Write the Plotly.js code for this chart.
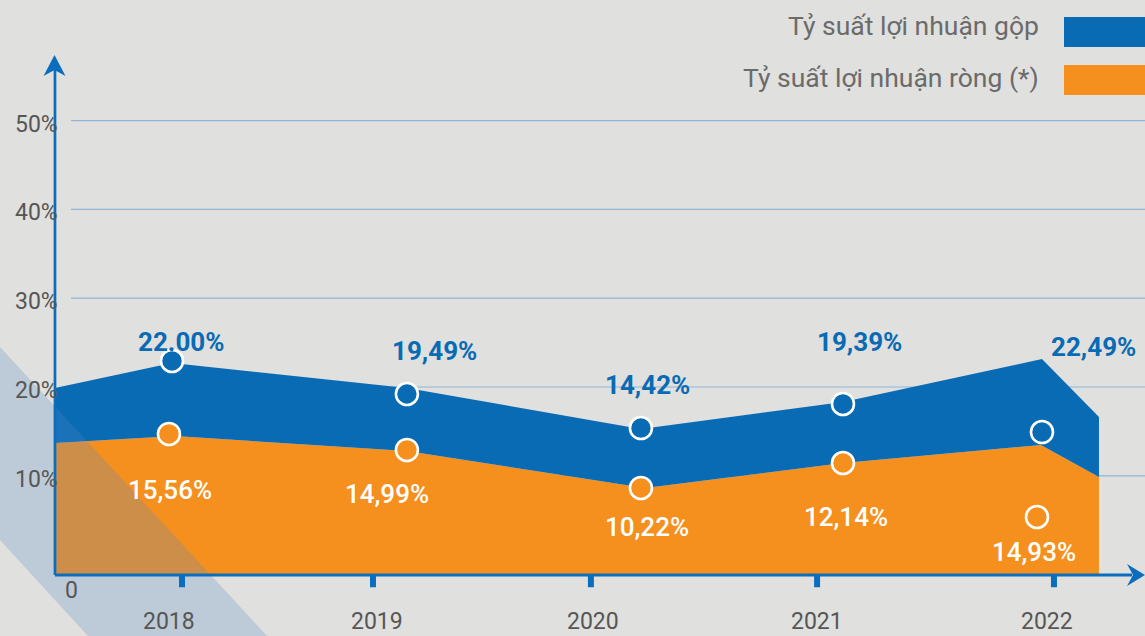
<!DOCTYPE html>
<html><head><meta charset="utf-8">
<script src="https://cdn.plot.ly/plotly-3.0.1.min.js"></script>
<style>html,body{margin:0;padding:0;background:#e0e0de;} #chart{width:1145px;height:636px;}</style>
</head><body><div id="chart"></div>
<script>
// ---- data ----
const years = ['2018', '2019', '2020', '2021', '2022'];
const seriesNames = ['Tỷ suất lợi nhuận gộp', 'Tỷ suất lợi nhuận ròng (*)'];
const grossLabels = ['22.00%', '19,49%', '14,42%', '19,39%', '22,49%'];
const netLabels = ['15,56%', '14,99%', '10,22%', '12,14%', '14,93%'];

const grossMarkerX = [2018.000, 2019.080, 2020.156, 2021.085, 2022.000];
const grossMarkerY = [22.93, 19.21, 15.38, 18.09, 14.93];
const netMarkerX = [2017.986, 2019.080, 2020.156, 2021.085, 2021.977];
const netMarkerY = [14.71, 12.91, 8.63, 11.44, 5.36];

const grossEdgeX = [2017.462, 2018.000, 2019.080, 2020.156, 2021.085, 2022.000, 2022.262];
const grossEdgeY = [19.89, 22.70, 19.89, 15.27, 18.31, 23.15, 16.62];
const netEdgeX = [2017.462, 2018.014, 2019.080, 2020.175, 2021.085, 2021.995, 2022.262];
const netEdgeY = [13.69, 14.48, 12.79, 8.63, 11.44, 13.47, 9.86];

const grossLabelX = [2018.041, 2019.205, 2020.184, 2021.159, 2022.239];
const grossLabelY = [25.07, 24.05, 20.23, 25.07, 24.50];
const netLabelX = [2017.991, 2018.989, 2020.184, 2021.099, 2021.963];
const netLabelY = [8.40, 7.95, 4.23, 5.36, 1.42];

const yTickVals = [10, 20, 30, 40, 50];
const yTickText = ['10%', '20%', '30%', '40%', '50%'];
const xTickPos = [2018.046, 2018.924, 2019.926, 2020.966, 2022.055];
const xLabelPos = [2017.986, 2018.943, 2019.936, 2020.966, 2022.023];

// ---- scales / styling ----
const W = 1145, H = 636;
const X_RANGE = [2017.2092, 2022.4736];
const Y_RANGE = [-8.04, 63.58];
const AXIS_X = 2017.462, AXIS_Y = -1.17, AXIS_END_X = 2022.414, AXIS_TOP_Y = 55.7;
const BLUE = '#0a6bb5', ORANGE = '#f5901f', AXIS = '#0b6ebd', GRAY = '#565656';
const FONT = 'Roboto, "Open Sans", sans-serif';
const px = x => x / W, py = y => 1 - y / H;

const traces = [
  { x: [AXIS_X, netEdgeX[netEdgeX.length - 1]], y: [AXIS_Y, AXIS_Y], mode: 'lines',
    line: { width: 0 }, hoverinfo: 'skip', showlegend: false },
  { x: netEdgeX, y: netEdgeY, mode: 'lines', fill: 'tonexty', fillcolor: ORANGE,
    line: { width: 0 }, hoverinfo: 'skip', showlegend: false, name: seriesNames[1] },
  { x: grossEdgeX, y: grossEdgeY, mode: 'lines', fill: 'tonexty', fillcolor: BLUE,
    line: { width: 0 }, hoverinfo: 'skip', showlegend: false, name: seriesNames[0] },
  { x: grossMarkerX, y: grossMarkerY, mode: 'markers', showlegend: false,
    marker: { size: 22, color: BLUE, line: { color: '#ffffff', width: 2.6 } } },
  { x: netMarkerX, y: netMarkerY, mode: 'markers', showlegend: false,
    marker: { size: 22, color: ORANGE, line: { color: '#ffffff', width: 2.6 } } }
];

const shapes = [];
yTickVals.forEach(v => shapes.push({ type: 'line', xref: 'paper', yref: 'y', x0: px(71), x1: 1, y0: v, y1: v,
  line: { color: '#8fb5d8', width: 1.2 }, layer: 'below' }));
// decorative diagonal band
shapes.push({ type: 'path', xref: 'paper', yref: 'paper', layer: 'above',
  path: `M${px(0)},${py(347)} L${px(267)},${py(636)} L${px(88)},${py(636)} L${px(0)},${py(540)} Z`,
  fillcolor: 'rgba(84,136,196,0.25)', line: { width: 0 } });
// axes
shapes.push({ type: 'line', xref: 'x', yref: 'y', x0: AXIS_X, x1: AXIS_X, y0: AXIS_Y, y1: AXIS_TOP_Y,
  line: { color: AXIS, width: 2.7 }, layer: 'above' });
shapes.push({ type: 'line', xref: 'x', yref: 'y', x0: AXIS_X, x1: AXIS_END_X, y0: AXIS_Y, y1: AXIS_Y,
  line: { color: AXIS, width: 3 }, layer: 'above' });
xTickPos.forEach(x => shapes.push({ type: 'line', xref: 'x', yref: 'y', x0: x, x1: x, y0: AXIS_Y, y1: -2.55,
  line: { color: AXIS, width: 6 }, layer: 'above' }));
// arrow heads
shapes.push({ type: 'path', xref: 'paper', yref: 'paper', layer: 'above',
  path: `M${px(54.5)},${py(55)} L${px(65.5)},${py(76)} L${px(54.5)},${py(70)} L${px(43.5)},${py(76)} Z`,
  fillcolor: AXIS, line: { width: 0 } });
shapes.push({ type: 'path', xref: 'paper', yref: 'paper', layer: 'above',
  path: `M${px(1145)},${py(575)} L${px(1127)},${py(564)} L${px(1133)},${py(575)} L${px(1127)},${py(586)} Z`,
  fillcolor: AXIS, line: { width: 0 } });
// legend swatches
shapes.push({ type: 'rect', xref: 'paper', yref: 'paper', x0: px(1064), x1: 1, y0: py(47), y1: py(17),
  fillcolor: BLUE, line: { width: 0 } });
shapes.push({ type: 'rect', xref: 'paper', yref: 'paper', x0: px(1064), x1: 1, y0: py(95), y1: py(65),
  fillcolor: ORANGE, line: { width: 0 } });

const annotations = [];
grossLabels.forEach((t, i) => annotations.push({ x: grossLabelX[i], y: grossLabelY[i], text: t, showarrow: false,
  font: { family: FONT, size: 26, color: BLUE, weight: 700 } }));
netLabels.forEach((t, i) => annotations.push({ x: netLabelX[i], y: netLabelY[i], text: t, showarrow: false,
  font: { family: FONT, size: 26, color: '#ffffff', weight: 500 } }));
yTickVals.forEach((v, i) => annotations.push({ x: 2017.485, y: v, yshift: -3.5, xanchor: 'right', text: yTickText[i],
  showarrow: false, font: { family: FONT, size: 23, color: GRAY } }));
years.forEach((t, i) => annotations.push({ x: xLabelPos[i], y: -6.46, text: t, showarrow: false,
  font: { family: FONT, size: 23, color: GRAY } }));
annotations.push({ x: 2017.540, y: -2.86, text: '0', showarrow: false, font: { family: FONT, size: 23, color: GRAY } });
annotations.push({ xref: 'paper', yref: 'paper', x: px(1041), y: py(25), xanchor: 'right', yanchor: 'middle',
  text: seriesNames[0], showarrow: false, font: { family: FONT, size: 26.5, color: '#6b6b6b' } });
annotations.push({ xref: 'paper', yref: 'paper', x: px(1041), y: py(78), xanchor: 'right', yanchor: 'middle',
  text: seriesNames[1], showarrow: false, font: { family: FONT, size: 26.5, color: '#6b6b6b' } });

const layout = {
  width: W, height: H,
  margin: { l: 0, r: 0, t: 0, b: 0, pad: 0 },
  paper_bgcolor: '#e0e0de', plot_bgcolor: 'rgba(0,0,0,0)',
  xaxis: { range: X_RANGE, visible: false, fixedrange: true },
  yaxis: { range: Y_RANGE, visible: false, fixedrange: true },
  showlegend: false, shapes, annotations, hovermode: false
};
Plotly.newPlot('chart', traces, layout, { displayModeBar: false, staticPlot: true });
</script></body></html>
